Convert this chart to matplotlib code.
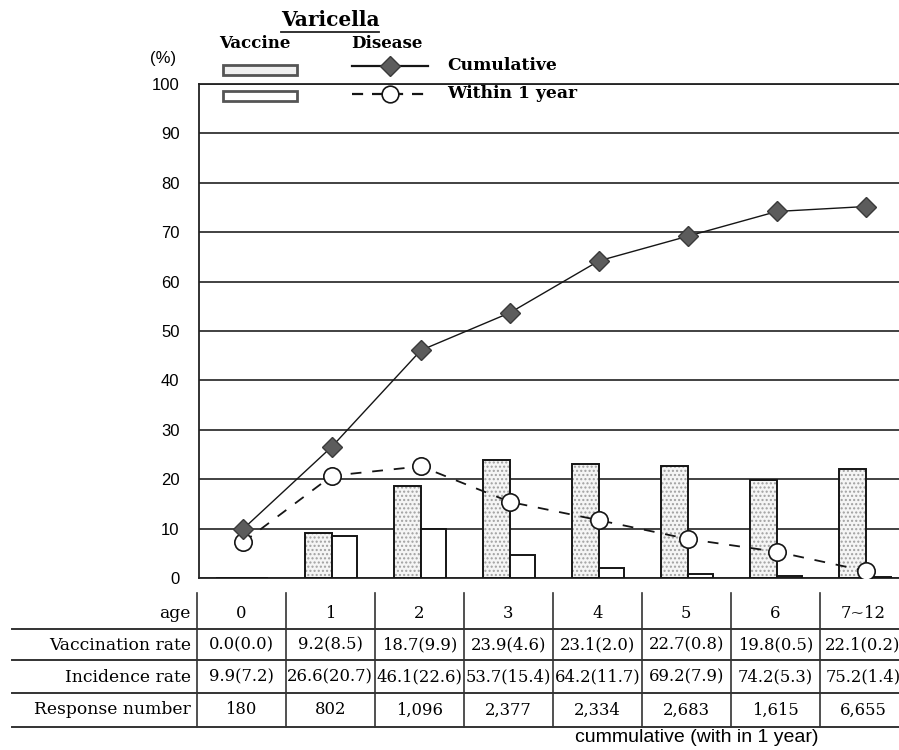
import matplotlib
matplotlib.use('Agg')
import matplotlib.pyplot as plt
import matplotlib.transforms as mtransforms
from matplotlib.patches import Rectangle
from matplotlib.lines import Line2D

# data
ages = ['0', '1', '2', '3', '4', '5', '6', '7~12']
vacc_cum = [0.0, 9.2, 18.7, 23.9, 23.1, 22.7, 19.8, 22.1]
vacc_1yr = [0.0, 8.5, 9.9, 4.6, 2.0, 0.8, 0.5, 0.2]
inc_cum = [9.9, 26.6, 46.1, 53.7, 64.2, 69.2, 74.2, 75.2]
inc_1yr = [7.2, 20.7, 22.6, 15.4, 11.7, 7.9, 5.3, 1.4]
responses = ['180', '802', '1,096', '2,377', '2,334', '2,683', '1,615', '6,655']
row_labels = ['age', 'Vaccination rate', 'Incidence rate', 'Response number']

SERIF = 'DejaVu Serif'
SANS = 'Liberation Sans'
W, H = 899, 750


def fx(px):
    return px / W


def fy(py):
    return 1 - py / H


fig = plt.figure(figsize=(W / 100, H / 100), dpi=100)
ax = fig.add_axes([fx(199), fy(578), fx(899) - fx(199), fy(84) - fy(578)])

xs = list(range(len(ages)))

# vaccination bars: cumulative (stippled) left of the point, within 1 year right of it
ax.bar(xs, vacc_cum, width=-0.30, align='edge', facecolor='#f5f5f5',
       hatch='....', edgecolor='#a0a0a0', linewidth=0, zorder=2)
ax.bar(xs, vacc_cum, width=-0.30, align='edge', fill=False,
       edgecolor='#151515', linewidth=1.4, zorder=3)
ax.bar(xs, vacc_1yr, width=0.28, align='edge', facecolor='white',
       edgecolor='#151515', linewidth=1.4, zorder=3)

# disease lines
ax.plot(xs, inc_1yr, color='#151515', lw=1.3, dashes=(6, 6), marker='o', ms=12.5,
        mfc='white', mec='#151515', mew=1.2, zorder=4)
ax.plot(xs, inc_cum, color='#151515', lw=1.0, marker='D', ms=10.5,
        mfc='#5c5c5c', mec='#3a3a3a', zorder=5)

ax.set_xlim(-0.494, 7.371)
ax.set_ylim(0, 100)
ax.set_yticks(range(0, 101, 10))
ax.set_xticks([])
ax.yaxis.grid(True, color='#333333', lw=1.3)
ax.set_axisbelow(True)
ax.tick_params(axis='y', length=0, pad=14, labelsize=12)
for lab in ax.get_yticklabels():
    lab.set_family(SANS)
ax.spines['right'].set_visible(False)
for s in ['left', 'bottom', 'top']:
    ax.spines[s].set_color('#222222')
    ax.spines[s].set_linewidth(1.3)

fig.text(fx(163), fy(58), '(%)', ha='center', va='center', family=SANS, size=12)

# title and legend
title = fig.text(fx(330), fy(20), 'Varicella', ha='center', va='center',
                 family=SERIF, weight='bold', size=14.5)
fig.canvas.draw()
bb = title.get_window_extent().transformed(fig.transFigure.inverted())
fig.add_artist(Line2D([bb.x0, bb.x1], [bb.y0 - 0.003] * 2, color='#222', lw=1.3))

fig.text(fx(255), fy(43), 'Vaccine', ha='center', va='center',
         family=SERIF, weight='bold', size=12)
fig.text(fx(387), fy(43), 'Disease', ha='center', va='center',
         family=SERIF, weight='bold', size=12)

fig.add_artist(Rectangle((fx(223), fy(75)), fx(74), 10 / H, facecolor='#f0f0f0',
                         edgecolor='#555555', lw=2))
fig.add_artist(Rectangle((fx(223), fy(101)), fx(74), 10 / H, facecolor='white',
                         edgecolor='#555555', lw=2))
fig.add_artist(Line2D([fx(352), fx(390), fx(428)], [fy(66)] * 3, color='#151515',
                      lw=1.6, marker='D', ms=10, markevery=[1],
                      mfc='#5c5c5c', mec='#3a3a3a'))
fig.add_artist(Line2D([fx(352), fx(390), fx(428)], [fy(94)] * 3, color='#151515',
                      lw=1.6, dashes=(5, 4), marker='o', ms=12, markevery=[1],
                      mfc='white', mec='#151515', mew=1.2))
fig.text(fx(447), fy(65), 'Cumulative', ha='left', va='center',
         family=SERIF, weight='bold', size=12.3)
fig.text(fx(447), fy(93), 'Within 1 year', ha='left', va='center',
         family=SERIF, weight='bold', size=12.3)

# table under the chart
trans = mtransforms.blended_transform_factory(ax.transData, fig.transFigure)
bounds = [k - 0.52 for k in range(len(ages))] + [7.45]
centers = [(a + b) / 2 for a, b in zip(bounds[:-1], bounds[1:])]
row_y = [613, 645, 677, 710]
cells = [
    ages,
    [f'{c:.1f}({w:.1f})' for c, w in zip(vacc_cum, vacc_1yr)],
    [f'{c:.1f}({w:.1f})' for c, w in zip(inc_cum, inc_1yr)],
    responses,
]

for y in [629, 660, 693, 727]:
    fig.add_artist(Line2D([fx(12), 1.0], [fy(y)] * 2, color='#333333', lw=1.4))
for b in bounds[:-1]:
    fig.add_artist(Line2D([b, b], [fy(593), fy(727)], color='#333333', lw=1.2,
                          transform=trans))

for label, y, row in zip(row_labels, row_y, cells):
    fig.text(fx(191), fy(y), label, ha='right', va='center', family=SERIF, size=12.3)
    for cx, s in zip(centers, row):
        fig.text(cx, fy(y), s, ha='center', va='center', family=SERIF, size=11.8,
                 transform=trans)

fig.text(fx(697), fy(738), 'cummulative (with in 1 year)', ha='center', va='center',
         family=SANS, size=14)

fig.savefig('out.png', dpi=100)
